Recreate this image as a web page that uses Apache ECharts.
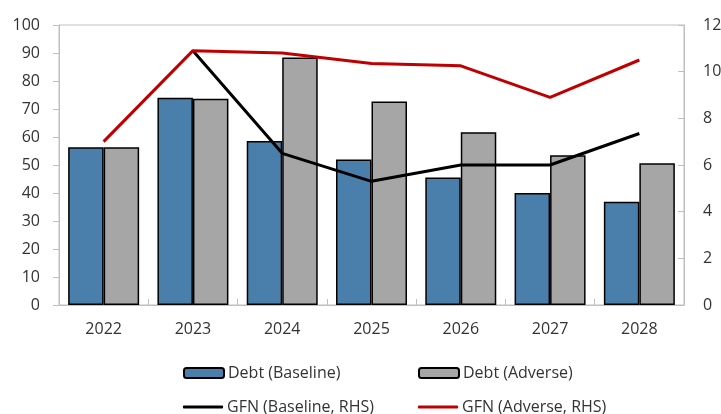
<!DOCTYPE html>
<html>
<head>
<meta charset="utf-8">
<script src="https://cdn.jsdelivr.net/npm/echarts@6/dist/echarts.min.js"></script>
<style>
  html, body { margin: 0; padding: 0; background: #fff; }
  #chart { width: 721px; height: 414px; }
</style>
</head>
<body>
<div id="chart"></div>
<script>
// Years on the category axis
var years = ['2022', '2023', '2024', '2025', '2026', '2027', '2028'];
// Debt, percent (left axis)
var debtBaseline = [56.3, 74.0, 58.6, 52.0, 45.5, 40.0, 36.9];
var debtAdverse = [56.3, 73.7, 88.4, 72.7, 61.7, 53.5, 50.6];
// Gross financing needs, percent (right axis)
var gfnBaseline = [null, 10.9, 6.5, 5.3, 6.0, 6.0, 7.35];
var gfnAdverse = [7.0, 10.9, 10.8, 10.35, 10.25, 8.9, 10.5];

var FONT = 'Open Sans';
var TEXT = '#333333';
var AXIS_GRAY = '#BFBFBF';

var chart = echarts.init(document.getElementById('chart'));

// One legend entry per block so the four entries sit in a 2x2 layout
function legendAt(name, left, top, isLine) {
  var lg = {
    data: [name],
    left: left,
    top: top,
    padding: 0,
    itemWidth: 40,
    itemHeight: 10,
    itemGap: 4,
    selectedMode: false,
    textStyle: { fontFamily: FONT, fontSize: 16, color: TEXT, padding: [0, 0, 0, -1] }
  };
  if (isLine) {
    lg.icon = 'roundRect';
    lg.itemHeight = 3;
  }
  return lg;
}

chart.setOption({
  animation: false,
  grid: {
    left: 59, right: 37, top: 25, bottom: 109,
    show: true, borderColor: AXIS_GRAY, borderWidth: 1,
    outerBoundsMode: 'none'
  },
  legend: [
    legendAt('Debt (Baseline)', 183, 365, false),
    legendAt('Debt (Adverse)', 418, 365, false),
    legendAt('GFN (Baseline, RHS)', 183, 399, true),
    legendAt('GFN (Adverse, RHS)', 418, 399, true)
  ],
  xAxis: {
    type: 'category',
    data: years,
    axisLine: { lineStyle: { color: AXIS_GRAY, width: 1 } },
    axisTick: { show: true, inside: true, length: 6, lineStyle: { color: AXIS_GRAY } },
    axisLabel: { fontFamily: FONT, fontSize: 16, color: TEXT, margin: 16 }
  },
  yAxis: [
    {
      type: 'value', min: 0, max: 100, interval: 10,
      splitLine: { show: false },
      axisLine: { show: true, lineStyle: { color: AXIS_GRAY } },
      axisTick: { show: true, length: 6, lineStyle: { color: AXIS_GRAY } },
      axisLabel: { fontFamily: FONT, fontSize: 16, color: TEXT, margin: 19 }
    },
    {
      type: 'value', min: 0, max: 12, interval: 2,
      position: 'right',
      splitLine: { show: false },
      axisLine: { show: true, lineStyle: { color: AXIS_GRAY } },
      axisTick: { show: true, inside: true, length: 6, lineStyle: { color: AXIS_GRAY } },
      axisLabel: { fontFamily: FONT, fontSize: 16, color: TEXT, margin: 19 }
    }
  ],
  series: [
    {
      name: 'Debt (Baseline)', type: 'bar', data: debtBaseline,
      barGap: '0%', barCategoryGap: '20.5%',
      itemStyle: { color: '#4A7EAB', borderColor: '#000', borderWidth: 1.5 }
    },
    {
      name: 'Debt (Adverse)', type: 'bar', data: debtAdverse,
      barGap: '0%', barCategoryGap: '20.5%',
      itemStyle: { color: '#A6A6A6', borderColor: '#000', borderWidth: 1.5 }
    },
    {
      name: 'GFN (Baseline, RHS)', type: 'line', yAxisIndex: 1, data: gfnBaseline,
      symbol: 'none', showSymbol: false,
      lineStyle: { color: '#000000', width: 3 }, itemStyle: { color: '#000000' }
    },
    {
      name: 'GFN (Adverse, RHS)', type: 'line', yAxisIndex: 1, data: gfnAdverse,
      symbol: 'none', showSymbol: false,
      lineStyle: { color: '#C00000', width: 3 }, itemStyle: { color: '#C00000' }
    }
  ]
});
</script>
</body>
</html>
